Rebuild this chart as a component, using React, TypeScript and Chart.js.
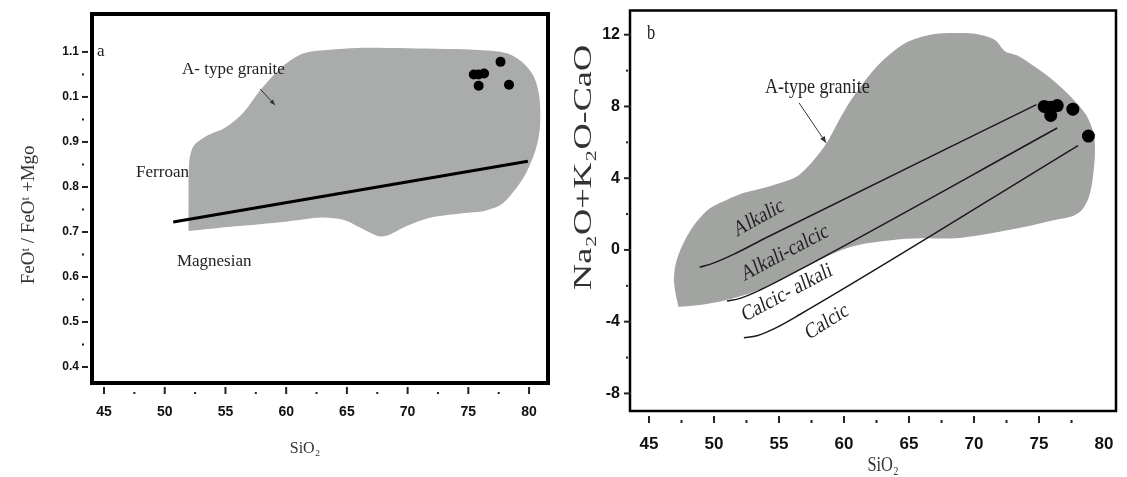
import React, { useEffect, useRef } from "react";
import { Chart, registerables } from "chart.js";

Chart.register(...registerables);

const SERIF = '"Liberation Serif", "Times New Roman", "DejaVu Serif", serif';
const NARROW = '"Liberation Sans Narrow", "Arial Narrow", "Liberation Sans", Arial, sans-serif';

// ---------------- Panel a : FeOt/(FeOt+MgO) vs SiO2 ----------------
const aXTicks = [45, 50, 55, 60, 65, 70, 75, 80];
const aXLabels = ["45", "50", "55", "60", "65", "70", "75", "80"];
const aXMinor = [47.5, 52.5, 57.5, 62.5, 67.5, 72.5, 77.5];
const aYTicks = [0.4, 0.5, 0.6, 0.7, 0.8, 0.9, 1.0, 1.1];
const aYLabels = ["0.4", "0.5", "0.6", "0.7", "0.8", "0.9", "0.1", "1.1"];
const aYMinor = [0.45, 0.55, 0.65, 0.75, 0.85, 0.95, 1.05];
const aFieldX = [51.96, 55.6, 60.0, 62.94, 64.7, 65.86, 67.1, 67.7, 68.5, 69.75, 71.78, 74.7, 76.2, 77.7, 78.85, 79.74, 80.55, 80.9, 80.85, 80.4, 79.5, 78.2, 76.2, 70.0, 65.86, 63.56, 61.44, 59.67, 57.9, 56.46, 54.99, 53.37, 52.35, 52.02, 51.96, 51.96];
const aFieldY = [0.702, 0.712, 0.723, 0.732, 0.727, 0.713, 0.696, 0.69, 0.694, 0.711, 0.731, 0.742, 0.746, 0.761, 0.794, 0.83, 0.883, 0.934, 1.0, 1.045, 1.076, 1.097, 1.104, 1.108, 1.109, 1.105, 1.097, 1.067, 1.016, 0.965, 0.932, 0.912, 0.89, 0.855, 0.78, 0.702];
const aDividerX = [50.7, 79.9];
const aDividerY = [0.722, 0.857];
const aSampleX = [75.45, 75.85, 76.3, 75.85, 77.65, 78.35];
const aSampleY = [1.05, 1.05, 1.052, 1.025, 1.078, 1.027];

// ---------------- Panel b : Na2O+K2O-CaO vs SiO2 ----------------
const bXTicks = [45, 50, 55, 60, 65, 70, 75, 80];
const bXLabels = ["45", "50", "55", "60", "65", "70", "75", "80"];
const bXMarks = [45, 50, 55, 60, 65, 70, 75];
const bXMinor = [47.5, 52.5, 57.5, 62.5, 67.5, 72.5, 77.5];
const bYTicks = [-8, -4, 0, 4, 8, 12];
const bYLabels = ["-8", "-4", "0", "4", "8", "12"];
const bYMinor = [-6, -2, 2, 6, 10];
const bFieldX = [47.26, 47.0, 46.92, 47.13, 47.77, 48.67, 49.69, 50.97, 52.25, 53.79, 55.08, 56.36, 57.6, 58.7, 59.6, 60.4, 61.67, 63.04, 64.7, 66.63, 68.55, 70.2, 71.58, 72.4, 73.3, 74.7, 76.1, 77.5, 78.6, 79.2, 79.3, 79.15, 78.85, 78.3, 77.5, 76.2, 74.06, 71.31, 68.55, 65.85, 63.79, 61.74, 60.2, 58.67, 56.6, 54.56, 52.77, 50.97, 48.92, 47.26];
const bFieldY = [-3.17, -2.23, -1.49, -0.56, 0.56, 1.58, 2.33, 2.79, 3.17, 3.45, 3.73, 4.09, 4.95, 6.0, 7.2, 8.2, 9.49, 10.6, 11.53, 12.0, 12.09, 12.04, 11.72, 11.07, 10.85, 10.2, 9.45, 8.5, 7.55, 6.5, 5.4, 4.1, 2.98, 2.23, 1.86, 1.67, 1.3, 0.93, 0.65, 0.65, 0.56, 0.37, 0.09, -0.37, -1.12, -1.86, -2.42, -2.79, -3.07, -3.17];
const bAlkalicX = [48.9, 49.9, 51.5, 54.0, 74.8];
const bAlkalicY = [-0.97, -0.75, -0.25, 0.68, 8.1];
const bAlkaliCalcicX = [51.0, 52.0, 53.5, 56.6, 76.4];
const bAlkaliCalcicY = [-2.85, -2.7, -2.25, -1.1, 6.8];
const bCalcicX = [52.3, 53.3, 54.6, 56.6, 78.0];
const bCalcicY = [-4.9, -4.78, -4.4, -3.6, 5.82];
const bSampleX = [75.4, 75.9, 76.4, 75.9, 77.6, 78.8];
const bSampleY = [8.0, 7.95, 8.05, 7.5, 7.85, 6.35];

const zip = (xs: number[], ys: number[]) => xs.map((x, i) => ({ x, y: ys[i] }));

function axis(min: number, max: number, ticks: number[], labels: string[], size: number, padding: number, fit: number, isX: boolean) {
  return {
    type: "linear",
    min,
    max,
    afterBuildTicks: (s: any) => {
      s.ticks = ticks.map((v) => ({ value: v }));
    },
    afterFit: (s: any) => {
      if (isX) s.height = fit;
      else s.width = fit;
      s.paddingTop = 0;
      s.paddingBottom = 0;
      s.paddingLeft = 0;
      s.paddingRight = 0;
    },
    grid: { display: false, drawTicks: false },
    border: { display: false },
    ticks: {
      autoSkip: false,
      maxRotation: 0,
      minRotation: 0,
      padding,
      color: "#111",
      font: { family: NARROW, size, weight: "bold" },
      callback: (v: number) => {
        const i = ticks.findIndex((t) => Math.abs(t - v) < 1e-6);
        return i >= 0 ? labels[i] : "";
      },
    },
  };
}

type TxtOpt = { align?: CanvasTextAlign; baseline?: CanvasTextBaseline; angle?: number; squash?: number; length?: number; color?: string; weight?: string; family?: string };

function txt(ctx: CanvasRenderingContext2D, s: string, x: number, y: number, size: number, o: TxtOpt = {}) {
  ctx.save();
  ctx.translate(x, y);
  const sq = o.squash ?? 1;
  ctx.scale(sq, 1);
  const ang = ((o.angle ?? 0) * Math.PI) / 180;
  const a2 = Math.abs(Math.cos(ang)) < 1e-6 ? ang : Math.atan(sq * Math.tan(ang));
  ctx.rotate(a2);
  ctx.font = `${o.weight ?? "normal"} ${size}px ${o.family ?? SERIF}`;
  if (o.length) {
    const w = ctx.measureText(s).width;
    ctx.scale(o.length / w, 1);
  }
  ctx.fillStyle = o.color ?? "#222";
  ctx.textAlign = o.align ?? "left";
  ctx.textBaseline = o.baseline ?? "middle";
  ctx.fillText(s, 0, 0);
  ctx.restore();
}

function arrow(ctx: CanvasRenderingContext2D, x1: number, y1: number, x2: number, y2: number, head: number, color = "#333") {
  ctx.save();
  ctx.strokeStyle = color;
  ctx.fillStyle = color;
  ctx.lineWidth = 1;
  ctx.beginPath();
  ctx.moveTo(x1, y1);
  ctx.lineTo(x2, y2);
  ctx.stroke();
  const a = Math.atan2(y2 - y1, x2 - x1);
  ctx.beginPath();
  ctx.moveTo(x2, y2);
  ctx.lineTo(x2 - head * Math.cos(a - 0.4), y2 - head * Math.sin(a - 0.4));
  ctx.lineTo(x2 - head * Math.cos(a + 0.4), y2 - head * Math.sin(a + 0.4));
  ctx.closePath();
  ctx.fill();
  ctx.restore();
}

function seg(ctx: CanvasRenderingContext2D, x1: number, y1: number, x2: number, y2: number) {
  ctx.beginPath();
  ctx.moveTo(x1, y1);
  ctx.lineTo(x2, y2);
  ctx.stroke();
}

const decorA = {
  id: "decorA",
  afterDraw(chart: any) {
    const { ctx, chartArea: ca } = chart;
    const x = chart.scales.x;
    const y = chart.scales.y;
    const X = (v: number) => x.getPixelForValue(v);
    const Y = (v: number) => y.getPixelForValue(v);
    ctx.save();
    ctx.strokeStyle = "#000";
    ctx.lineWidth = 4;
    ctx.strokeRect(ca.left, ca.top, ca.right - ca.left, ca.bottom - ca.top);
    ctx.strokeStyle = "#222";
    ctx.fillStyle = "#222";
    ctx.lineWidth = 2;
    aXTicks.forEach((v) => seg(ctx, X(v), ca.bottom + 4, X(v), ca.bottom + 11));
    aXMinor.forEach((v) => ctx.fillRect(X(v) - 1, ca.bottom + 9, 2, 2));
    aYTicks.forEach((v) => seg(ctx, ca.left - 10, Y(v), ca.left - 4, Y(v)));
    aYMinor.forEach((v) => ctx.fillRect(ca.left - 10, Y(v) - 1, 2, 2));
    ctx.restore();

    txt(ctx, "a", X(44.42), Y(1.1), 17);
    txt(ctx, "A- type granite", X(51.42), Y(1.06), 17);
    arrow(ctx, X(57.85), Y(1.018), X(59.08), Y(0.982), 6);
    txt(ctx, "Ferroan", X(47.64), Y(0.8315), 17);
    txt(ctx, "Magnesian", X(51.0), Y(0.634), 17);

    txt(ctx, "SiO\u2082", X(61.55), ca.bottom + 66, 16, { align: "center", color: "#333" });
    txt(ctx, "FeO\u1D57 / FeO\u1D57 +Mgo", ca.left - 63, Y(0.738), 19, { align: "center", angle: -90, color: "#333" });
  },
};

const SQ = 0.82;
const decorB = {
  id: "decorB",
  afterDraw(chart: any) {
    const { ctx, chartArea: ca } = chart;
    const x = chart.scales.x;
    const y = chart.scales.y;
    const X = (v: number) => x.getPixelForValue(v);
    const Y = (v: number) => y.getPixelForValue(v);
    ctx.save();
    ctx.strokeStyle = "#000";
    ctx.lineWidth = 2.5;
    ctx.strokeRect(ca.left, ca.top, ca.right - ca.left, ca.bottom - ca.top);
    ctx.strokeStyle = "#222";
    ctx.fillStyle = "#222";
    ctx.lineWidth = 2;
    bXMarks.forEach((v) => seg(ctx, X(v), ca.bottom + 5, X(v), ca.bottom + 12));
    bXMinor.forEach((v) => ctx.fillRect(X(v) - 1, ca.bottom + 9, 2, 3));
    bYTicks.forEach((v) => seg(ctx, ca.left - 6, Y(v), ca.left + 1, Y(v)));
    bYMinor.forEach((v) => ctx.fillRect(ca.left - 4, Y(v) - 1, 2, 2));
    ctx.restore();

    txt(ctx, "b", X(44.85), Y(12.06), 20, { squash: SQ });
    txt(ctx, "A-type granite", X(53.92), Y(9.09), 22, { squash: SQ });
    arrow(ctx, X(56.54), Y(8.2), X(58.62), Y(5.97), 7);
    txt(ctx, "Alkalic", X(53.46), Y(1.78), 22, { align: "center", angle: -29, squash: SQ });
    txt(ctx, "Alkali-calcic", X(55.46), Y(-0.17), 22, { align: "center", angle: -28, squash: SQ });
    txt(ctx, "Calcic- alkali", X(55.62), Y(-2.4), 22, { align: "center", angle: -28, squash: SQ });
    txt(ctx, "Calcic", X(58.69), Y(-4.02), 22, { align: "center", angle: -32, squash: SQ });

    txt(ctx, "SiO\u2082", X(63.0), ca.bottom + 55, 20, { align: "center", squash: SQ, color: "#333" });
    txt(ctx, "Na\u2082O+K\u2082O-CaO", ca.left - 45, Y(4.6), 30, { align: "center", angle: -90, squash: SQ, length: 245, color: "#333" });
  },
};

function baseOptions(pad: any, scales: any) {
  return {
    animation: false,
    responsive: false,
    maintainAspectRatio: false,
    devicePixelRatio: 1,
    events: [],
    layout: { padding: pad },
    plugins: { legend: { display: false }, tooltip: { enabled: false }, title: { display: false } },
    scales,
    elements: { point: { radius: 0 } },
  } as any;
}

function configA(): any {
  return {
    type: "line",
    data: {
      datasets: [
        { label: "Samples", data: zip(aSampleX, aSampleY), showLine: false, pointRadius: 5, pointBackgroundColor: "#000", pointBorderWidth: 0, order: 1 },
        { label: "Ferroan / Magnesian", data: zip(aDividerX, aDividerY), borderColor: "#000", borderWidth: 3, pointRadius: 0, fill: false, order: 2 },
        { label: "A-type granite", data: zip(aFieldX, aFieldY), borderWidth: 0, borderColor: "rgba(0,0,0,0)", backgroundColor: "#aaacab", pointRadius: 0, fill: "shape", tension: 0.3, order: 3 },
      ],
    },
    options: baseOptions(
      { left: 32, right: 12, top: 14, bottom: 34 },
      {
        x: axis(44.01, 81.56, aXTicks, aXLabels, 14, 21, 60, true),
        y: axis(0.3645, 1.1843, aYTicks, aYLabels, 12, 13, 60, false),
      }
    ),
    plugins: [decorA],
  };
}

function configB(): any {
  const lineDs = (label: string, xs: number[], ys: number[]) => ({
    label,
    data: zip(xs, ys),
    borderColor: "#1a1a1a",
    borderWidth: 1.5,
    pointRadius: 0,
    fill: false,
    cubicInterpolationMode: "monotone",
    order: 2,
  });
  return {
    type: "line",
    data: {
      datasets: [
        { label: "Samples", data: zip(bSampleX, bSampleY), showLine: false, pointRadius: 6.5, pointBackgroundColor: "#000", pointBorderWidth: 0, order: 1 },
        lineDs("Alkalic", bAlkalicX, bAlkalicY),
        lineDs("Alkali-calcic", bAlkaliCalcicX, bAlkaliCalcicY),
        lineDs("Calcic", bCalcicX, bCalcicY),
        { label: "A-type granite", data: zip(bFieldX, bFieldY), borderWidth: 0, borderColor: "rgba(0,0,0,0)", backgroundColor: "#a1a4a0", pointRadius: 0, fill: "shape", tension: 0.3, order: 3 },
      ],
    },
    options: baseOptions(
      { left: 20, right: 11, top: 10.5, bottom: 26 },
      {
        x: axis(43.54, 80.92, bXTicks, bXLabels, 17, 23, 40, true),
        y: axis(-8.98, 13.35, bYTicks, bYLabels, 16, 10, 50, false),
      }
    ),
    plugins: [decorB],
  };
}

export default function App() {
  const refA = useRef<HTMLCanvasElement>(null);
  const refB = useRef<HTMLCanvasElement>(null);
  useEffect(() => {
    const ca = new Chart(refA.current as HTMLCanvasElement, configA());
    const cb = new Chart(refB.current as HTMLCanvasElement, configB());
    return () => {
      ca.destroy();
      cb.destroy();
    };
  }, []);
  return (
    <div style={{ position: "fixed", left: 0, top: 0, width: 1127, height: 477, background: "#fff", overflow: "hidden" }}>
      <canvas ref={refA} width={560} height={477} style={{ position: "absolute", left: 0, top: 0, width: 560, height: 477 }} />
      <canvas ref={refB} width={567} height={477} style={{ position: "absolute", left: 560, top: 0, width: 567, height: 477 }} />
    </div>
  );
}
